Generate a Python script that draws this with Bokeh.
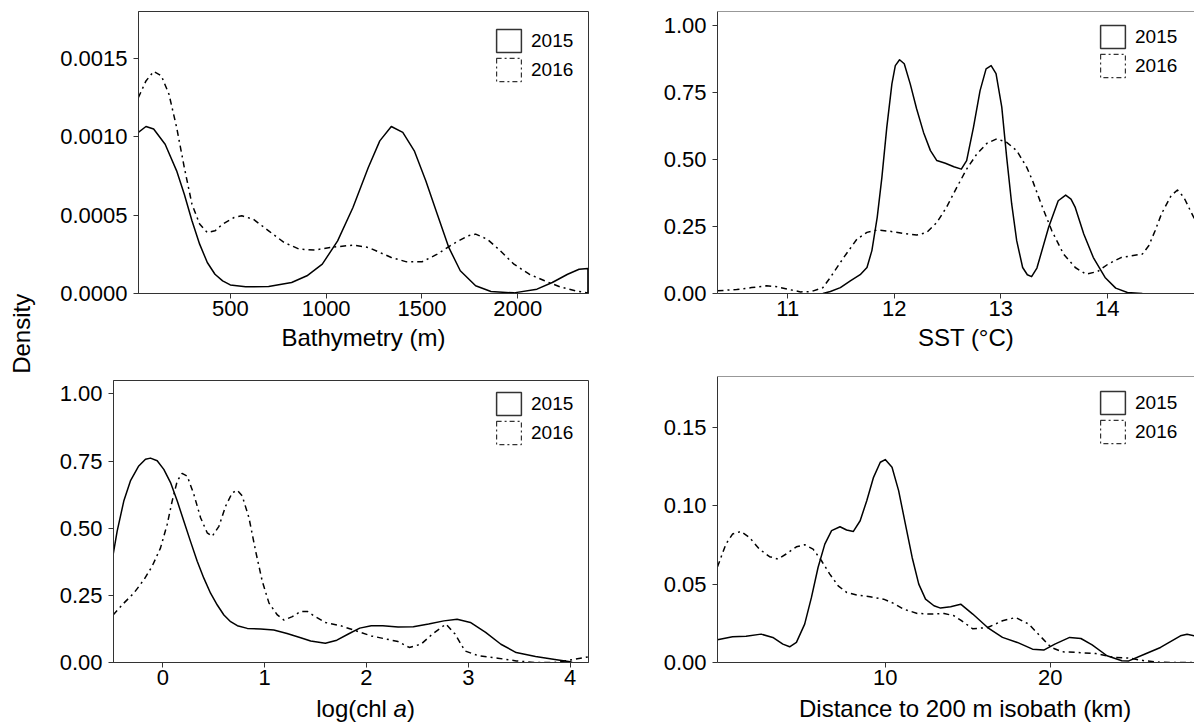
import math
from bokeh.plotting import figure
from bokeh.layouts import row, column
from bokeh.models import (Range1d, FixedTicker, PrintfTickFormatter, Legend, LegendItem,
                          Label, Span)
from bokeh.embed import file_html
from bokeh.resources import INLINE

# ---------------- data ----------------
bathy_x_2015 = [20, 60, 100, 160, 220, 260, 300, 340, 380, 420, 460, 500, 580, 700, 820, 900,
                980, 1060, 1140, 1220, 1280, 1340, 1400, 1460, 1520, 1580, 1640, 1700, 1780,
                1860, 1980, 2100, 2180, 2260, 2320, 2366, 2366]
bathy_y_2015 = [1.028, 1.066, 1.05, 0.953, 0.783, 0.634, 0.464, 0.315, 0.198, 0.123, 0.081,
                0.055, 0.0425, 0.045, 0.07, 0.113, 0.187, 0.336, 0.549, 0.804, 0.974, 1.066,
                1.028, 0.911, 0.719, 0.506, 0.294, 0.145, 0.049, 0.0128, 0.004, 0.0277, 0.07,
                0.123, 0.155, 0.16, 0.0]
bathy_x_2016 = [20, 60, 100, 140, 180, 220, 260, 300, 340, 380, 420, 460, 520, 560, 620, 700,
                780, 860, 940, 1020, 1140, 1220, 1340, 1420, 1500, 1580, 1660, 1740, 1780,
                1840, 1900, 1980, 2060, 2140, 2220, 2300, 2366]
bathy_y_2016 = [1.25, 1.357, 1.417, 1.39, 1.272, 1.06, 0.804, 0.57, 0.443, 0.389, 0.4, 0.443,
                0.485, 0.496, 0.474, 0.4, 0.326, 0.283, 0.277, 0.294, 0.309, 0.294, 0.23,
                0.202, 0.202, 0.251, 0.315, 0.368, 0.379, 0.347, 0.283, 0.187, 0.123, 0.081,
                0.0425, 0.017, 0.004]

sst_x_2015 = [11.33, 11.4, 11.494, 11.5875, 11.68, 11.744, 11.79, 11.84, 11.884, 11.93, 11.978,
              12.01, 12.05, 12.094, 12.15, 12.21, 12.275, 12.34, 12.4, 12.48, 12.56, 12.63,
              12.68, 12.744, 12.806, 12.8625, 12.91, 12.956, 13.01, 13.056, 13.103, 13.15,
              13.206, 13.25, 13.29, 13.34, 13.45, 13.54, 13.61, 13.66, 13.7, 13.78, 13.87,
              13.98, 14.08, 14.19, 14.33]
sst_y_2015 = [0.0, 0.0075, 0.022, 0.047, 0.07, 0.097, 0.16, 0.284, 0.433, 0.62, 0.782, 0.85,
              0.872, 0.857, 0.782, 0.689, 0.601, 0.533, 0.496, 0.486, 0.473, 0.464, 0.496, 0.62,
              0.757, 0.838, 0.85, 0.82, 0.695, 0.508, 0.334, 0.197, 0.097, 0.07, 0.063, 0.095,
              0.247, 0.346, 0.367, 0.352, 0.321, 0.222, 0.134, 0.06, 0.02, 0.004, 0.0]
sst_x_2016 = [10.34, 10.52, 10.66, 10.8, 10.9, 11.01, 11.12, 11.22, 11.33, 11.4, 11.525, 11.65,
              11.744, 11.84, 11.9625, 12.0875, 12.21, 12.306, 12.4, 12.49, 12.5875, 12.68,
              12.775, 12.87, 12.9625, 13.056, 13.15, 13.244, 13.3, 13.38, 13.48, 13.59, 13.7,
              13.8, 13.91, 14.01, 14.13, 14.33, 14.39, 14.45, 14.51, 14.6, 14.66, 14.72, 14.78,
              14.82]
sst_y_2016 = [0.01, 0.015, 0.022, 0.029, 0.025, 0.015, 0.006, 0.007, 0.022, 0.06, 0.134, 0.203,
              0.228, 0.237, 0.232, 0.224, 0.218, 0.228, 0.265, 0.321, 0.396, 0.464, 0.52, 0.56,
              0.577, 0.564, 0.533, 0.471, 0.42, 0.334, 0.234, 0.147, 0.097, 0.072, 0.082, 0.11,
              0.134, 0.147, 0.178, 0.234, 0.297, 0.365, 0.386, 0.359, 0.31, 0.278]

chl_x_2015 = [-0.488, -0.448, -0.383, -0.318, -0.236, -0.17, -0.121, -0.055, 0.01, 0.076, 0.142,
              0.207, 0.272, 0.338, 0.403, 0.469, 0.535, 0.6, 0.666, 0.732, 0.83, 0.961, 1.09,
              1.22, 1.354, 1.452, 1.596, 1.709, 1.822, 1.934, 2.047, 2.16, 2.31, 2.46, 2.61,
              2.76, 2.89, 3.02, 3.17, 3.32, 3.47, 3.66, 3.85, 4.0, 4.02]
chl_y_2015 = [0.401, 0.489, 0.601, 0.676, 0.732, 0.757, 0.761, 0.751, 0.719, 0.67, 0.601, 0.526,
              0.451, 0.377, 0.314, 0.258, 0.214, 0.177, 0.152, 0.137, 0.127, 0.125, 0.121, 0.108,
              0.092, 0.08, 0.072, 0.083, 0.106, 0.128, 0.137, 0.137, 0.132, 0.133, 0.143, 0.155,
              0.161, 0.149, 0.112, 0.068, 0.037, 0.022, 0.011, 0.0025, 0.0]
chl_x_2016 = [-0.488, -0.383, -0.285, -0.186, -0.105, -0.023, 0.043, 0.092, 0.142, 0.19, 0.24,
              0.305, 0.371, 0.436, 0.485, 0.551, 0.617, 0.682, 0.731, 0.78, 0.846, 0.912, 0.977,
              1.043, 1.125, 1.19, 1.272, 1.354, 1.42, 1.484, 1.596, 1.746, 1.897, 2.047, 2.197,
              2.31, 2.42, 2.535, 2.648, 2.78, 2.87, 2.967, 3.1, 3.29, 3.47, 3.66, 3.85, 4.0,
              4.18]
chl_y_2016 = [0.177, 0.221, 0.258, 0.308, 0.358, 0.426, 0.514, 0.601, 0.676, 0.704, 0.694,
              0.626, 0.539, 0.483, 0.47, 0.507, 0.582, 0.632, 0.641, 0.62, 0.539, 0.414, 0.302,
              0.221, 0.177, 0.158, 0.171, 0.19, 0.19, 0.174, 0.149, 0.137, 0.118, 0.099, 0.087,
              0.078, 0.056, 0.068, 0.106, 0.143, 0.106, 0.043, 0.025, 0.016, 0.006, 0.0, 0.0,
              0.009, 0.021]

dist_x_2015 = [-0.16, 0.75, 1.57, 2.48, 3.19, 3.8, 4.21, 4.62, 5.12, 5.53, 5.93, 6.34, 6.75,
               7.26, 7.66, 8.07, 8.48, 8.88, 9.29, 9.7, 10.0, 10.41, 10.81, 11.22, 11.63, 12.03,
               12.44, 12.95, 13.35, 13.96, 14.57, 15.3, 16.2, 17.1, 18.0, 18.92, 19.6, 20.27,
               21.17, 21.85, 22.53, 23.43, 24.33, 24.75, 25.7, 26.67, 27.88, 28.28, 28.73]
dist_y_2015 = [0.0145, 0.0164, 0.0168, 0.0181, 0.016, 0.0117, 0.01, 0.0128, 0.0245, 0.0415,
               0.0606, 0.0755, 0.0841, 0.0866, 0.0845, 0.0836, 0.0904, 0.1032, 0.1181, 0.1277,
               0.1294, 0.1245, 0.1096, 0.0883, 0.067, 0.05, 0.0404, 0.0362, 0.0347, 0.0355,
               0.0372, 0.0309, 0.0223, 0.016, 0.0128, 0.0085, 0.0079, 0.0117, 0.016, 0.0153,
               0.0113, 0.0043, 0.0011, 0.001, 0.0053, 0.0096, 0.017, 0.018, 0.017]
dist_x_2016 = [-0.16, 0.35, 0.75, 1.26, 1.77, 2.38, 2.99, 3.5, 4.0, 4.62, 5.12, 5.63, 6.14, 6.64,
               7.15, 7.66, 8.27, 9.08, 9.9, 10.51, 11.12, 11.94, 12.75, 13.56, 14.17, 14.57,
               15.3, 16.2, 17.1, 17.9, 18.69, 19.37, 20.05, 20.72, 21.63, 22.75, 23.88, 24.79,
               25.7, 26.6, 27.5, 28.73]
dist_y_2016 = [0.061, 0.0755, 0.0819, 0.0836, 0.0798, 0.0723, 0.0675, 0.066, 0.0692, 0.0738,
               0.0751, 0.0723, 0.0649, 0.0564, 0.0489, 0.0447, 0.043, 0.0419, 0.0404, 0.0377,
               0.034, 0.0313, 0.0309, 0.0313, 0.0298, 0.027, 0.0215, 0.0223, 0.0266, 0.0287,
               0.0245, 0.017, 0.0096, 0.0068, 0.0064, 0.0057, 0.0032, 0.0028, 0.0011, 0.0002,
               0.0, 0.0]

years = ["2015", "2016"]
bathy_ticks = [500, 1000, 1500, 2000]
sst_ticks = [11, 12, 13, 14]
chl_ticks = [0, 1, 2, 3, 4]
dist_ticks = [10, 20]
dens_ticks_bathy = [0.0, 0.0005, 0.0010, 0.0015]
dens_ticks_std = [0.0, 0.25, 0.5, 0.75, 1.0]
dens_ticks_dist = [0.0, 0.05, 0.10, 0.15]

FONT = "Liberation Sans"
DASH = "6 4 2 4"
EDGE = "#333333"
NAN = float("nan")


def panel(width, height, mbl, mbr, mbt, mbb, xr, yr, xticks, yticks, yfmt, closed,
          curves, leg_xy):
    p = figure(width=width, height=height, x_range=Range1d(*xr), y_range=Range1d(*yr),
               output_backend="svg", toolbar_location=None,
               min_border_left=mbl, min_border_right=mbr, min_border_top=mbt,
               min_border_bottom=mbb, background_fill_color="white",
               border_fill_color="white")
    p.frame_align = False
    p.grid.visible = False
    if closed:
        p.outline_line_color = EDGE
        p.outline_line_width = 1
    else:
        p.outline_line_color = None
        p.add_layout(Span(location=yr[1], dimension="width", line_color=EDGE, line_width=1))
    for ax in (p.xaxis[0], p.yaxis[0]):
        ax.axis_line_color = EDGE
        ax.axis_line_width = 1
        ax.major_tick_line_color = EDGE
        ax.major_tick_out = 5
        ax.major_tick_in = 0
        ax.minor_tick_line_color = None
        ax.major_label_text_font = FONT
        ax.major_label_text_font_size = "22px"
        ax.major_label_text_color = "black"
    p.xaxis[0].ticker = FixedTicker(ticks=xticks)
    p.xaxis[0].major_label_standoff = 2
    p.yaxis[0].ticker = FixedTicker(ticks=yticks)
    p.yaxis[0].formatter = PrintfTickFormatter(format=yfmt)
    p.yaxis[0].major_label_standoff = 6

    (x15, y15), (x16, y16) = curves
    p.line(x15, y15, line_color="black", line_width=1.5, line_join="round")
    p.line(x16, y16, line_color="black", line_width=1.5, line_dash=DASH, line_join="round")

    # legend keys only (no visible marks in the plot area)
    k15 = p.quad(left=[NAN], right=[NAN], top=[NAN], bottom=[NAN], fill_color=None,
                 line_color=EDGE, line_width=1.5)
    k16 = p.quad(left=[NAN], right=[NAN], top=[NAN], bottom=[NAN], fill_color=None,
                 line_color=EDGE, line_width=1.2, line_dash="5 3 2 3")
    leg = Legend(items=[LegendItem(label=years[0], renderers=[k15]),
                        LegendItem(label=years[1], renderers=[k16])],
                 location=leg_xy, glyph_width=31, glyph_height=29, spacing=0,
                 padding=5, margin=0, label_standoff=7, label_text_font=FONT,
                 label_text_font_size="19px", label_text_color="black",
                 border_line_color=None, background_fill_alpha=0)
    p.add_layout(leg)
    return p


def strip(width, height, parts, x, y):
    s = figure(width=width, height=height, x_range=Range1d(0, width),
               y_range=Range1d(height, 0), output_backend="svg", toolbar_location=None,
               min_border=0)
    s.frame_align = False
    s.axis.visible = False
    s.grid.visible = False
    s.outline_line_color = None
    for text, dx, style in parts:
        s.add_layout(Label(x=x + dx, y=y, text=text, text_font=FONT, text_font_size="24px",
                           text_font_style=style, text_color="black",
                           text_align="center" if len(parts) == 1 else "left",
                           text_baseline="alphabetic"))
    return s


tl = panel(600, 325, 98, 52, 11, 32, (21, 2369), (0, 0.0018), bathy_ticks, dens_ticks_bathy,
           "%.4f", True,
           [(bathy_x_2015, [v / 1000 for v in bathy_y_2015]),
            (bathy_x_2016, [v / 1000 for v in bathy_y_2016])],
           (355, 209))
tl_title = strip(600, 35, [("Bathymetry (m)", 0, "normal")], 323, 11.5)

bl = panel(600, 334, 73, 52, 20, 32, (-0.484, 4.18), (0, 1.05), chl_ticks, dens_ticks_std,
           "%.2f", True,
           [(chl_x_2015, chl_y_2015), (chl_x_2016, chl_y_2016)],
           (380, 215))
bl_title = strip(600, 29, [("log(chl ", 0, "normal"), ("a", 77.4, "italic"),
                           (")", 90.7, "normal")], 275.7, 14)

tr = panel(554, 325, 77, 0, 11, 32, (10.34, 14.82), (0, 1.052), sst_ticks, dens_ticks_std,
           "%.2f", False,
           [(sst_x_2015, sst_y_2015), (sst_x_2016, sst_y_2016)],
           (380, 213))
tr_title = strip(554, 35, [("SST (°C)", 0, "normal")], 325.6, 11.5)

br = panel(554, 334, 77, 0, 16, 32, (-0.16, 28.73), (0, 0.1824), dist_ticks, dens_ticks_dist,
           "%.2f", False,
           [(dist_x_2015, dist_y_2015), (dist_x_2016, dist_y_2016)],
           (380, 216))
br_title = strip(554, 29, [("Distance to 200 m isobath (km)", 0, "normal")], 324.6, 14)

dens = figure(width=40, height=723, x_range=Range1d(0, 40), y_range=Range1d(723, 0),
              output_backend="svg", toolbar_location=None, min_border=0)
dens.frame_align = False
dens.axis.visible = False
dens.grid.visible = False
dens.outline_line_color = None
dens.add_layout(Label(x=21.3, y=333.3, text="Density", angle=math.pi / 2, text_font=FONT,
                      text_font_size="24px", text_color="black", text_align="center",
                      text_baseline="alphabetic"))

layout = row(dens, column(tl, tl_title, bl, bl_title), column(tr, tr_title, br, br_title))
open("out.html", "w").write(file_html(layout, INLINE))
